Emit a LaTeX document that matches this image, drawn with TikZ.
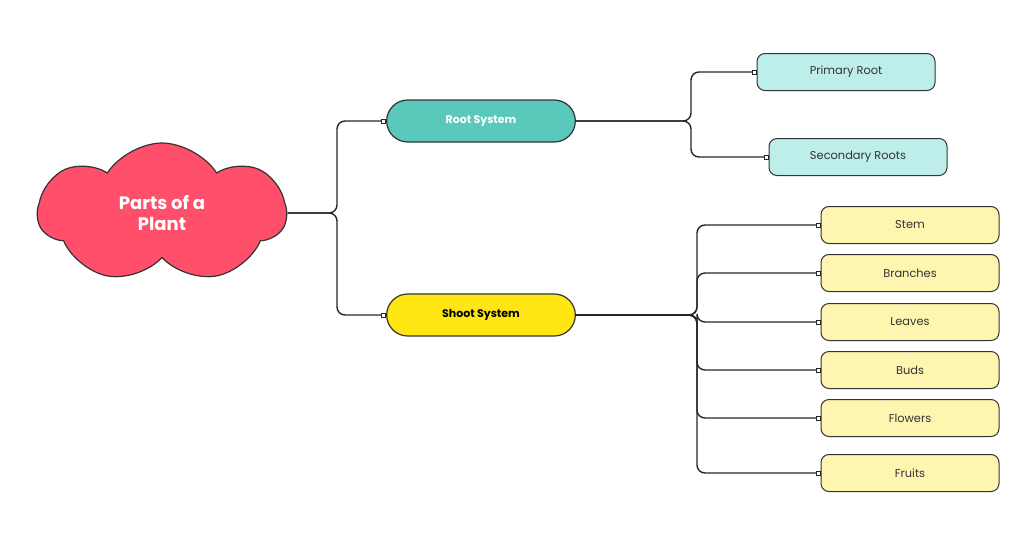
\documentclass[tikz,border=0pt]{standalone}
\usepackage{fontspec}
\setmainfont{Poppins}
\usetikzlibrary{shapes.symbols,shapes.misc}
\usetikzlibrary{positioning}
\definecolor{rootteal}{HTML}{5BC8BC}
\definecolor{rootlight}{HTML}{BDEEE9}
\definecolor{shootyellow}{HTML}{FFE512}
\definecolor{shootlight}{HTML}{FEF5B0}
\definecolor{cloudred}{HTML}{FF4F6A}

\begin{document}
\begin{tikzpicture}[
			x=0.5pt,y=-0.5pt,
			main/.style={cloud,cloud puffs=7,cloud puff arc=115,aspect=1.75,fill=cloudred,draw=black!80,line width=0.6pt,
				minimum width=124pt,minimum height=70pt,inner sep=0pt,align=center,text=white,
				font=\fontsize{9}{10.5}\selectfont\bfseries},
			pill/.style={rounded rectangle,draw=black!80,line width=0.6pt,minimum width=101pt,minimum height=21pt,
				font=\fontsize{5.5}{7}\selectfont\bfseries},
			leaf/.style={rectangle,rounded corners=4pt,draw=black!80,line width=0.5pt,minimum width=89pt,minimum height=18.5pt,
				font=\fontsize{5.7}{7}\selectfont,text=black!80},
			link/.style={black!85,line width=0.7pt,rounded corners=4pt},
			pin/.style={rectangle,draw=black!85,fill=white,line width=0.4pt,minimum size=2pt,inner sep=0pt}
		]
		\useasboundingbox (0,0) rectangle (1024,536);

		% Central idea
		\node[main,shape border rotate=10] (plant) at (162,213) {Parts of a\\Plant};

		% Two systems
		\node[pill,fill=rootteal,text=white] (root) at (481,121) {Root System};
		\node[pill,fill=shootyellow,text=black] (shoot) at (481,315) {Shoot System};

		% Root parts
		\node[leaf,fill=rootlight] (prim) at (846,72) {Primary Root};
		\node[leaf,fill=rootlight] (sec) at (858,157) {Secondary Roots};

		% Shoot parts
		\node[leaf,fill=shootlight] (stem) at (910,225) {Stem};
		\node[leaf,fill=shootlight] (branch) at (910,273) {Branches};
		\node[leaf,fill=shootlight] (leaves) at (910,322) {Leaves};
		\node[leaf,fill=shootlight] (buds) at (910,370) {Buds};
		\node[leaf,fill=shootlight] (flower) at (910,418) {Flowers};
		\node[leaf,fill=shootlight] (fruit) at (910,473) {Fruits};

		% Branch points
		\coordinate (cj) at (337,213);
		\coordinate (rj) at (691,121);
		\coordinate (sj) at (697,315);

		% Connectors from the cloud
		\draw[link] (plant.east|-cj) -- (cj) |- (root.west);
		\draw[link] (plant.east|-cj) -- (cj) |- (shoot.west);

		% Connectors from the root system
		\draw[link] (root.east) -- (rj) |- (prim.west);
		\draw[link] (root.east) -- (rj) |- (sec.west);

		% Connectors from the shoot system
		\draw[link] (shoot.east) -- (sj) |- (stem.west);
		\draw[link] (shoot.east) -- (sj) |- (branch.west);
		\draw[link] (shoot.east) -- (sj) |- (leaves.west);
		\draw[link] (shoot.east) -- (sj) |- (buds.west);
		\draw[link] (shoot.east) -- (sj) |- (flower.west);
		\draw[link] (shoot.east) -- (sj) |- (fruit.west);

		% Small end squares
		\foreach \n in {root,shoot,prim,sec,stem,branch,leaves,buds,flower,fruit}
		\node[pin,left=0pt of \n.west] {};

	\end{tikzpicture}
\end{document}
